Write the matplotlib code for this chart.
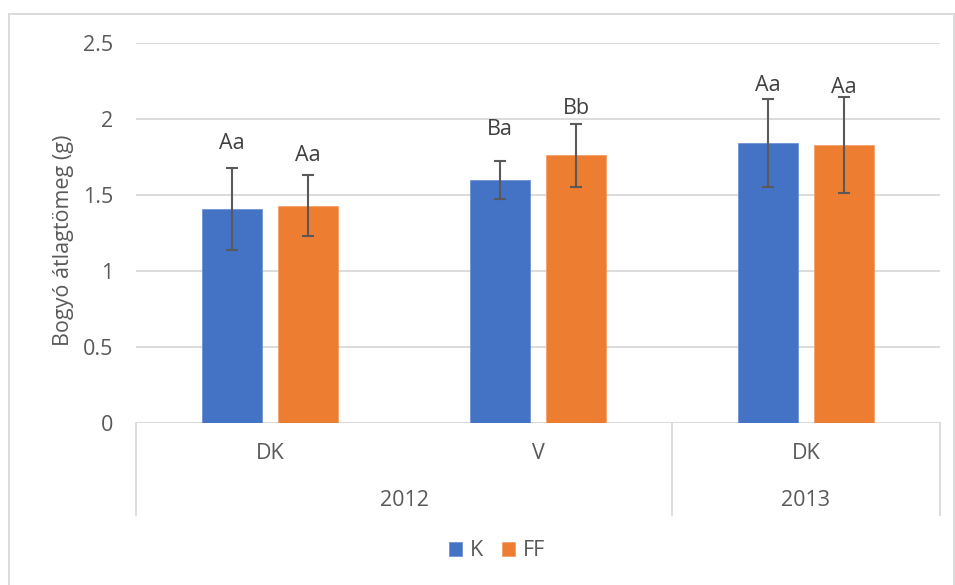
import matplotlib
matplotlib.use("Agg")
import matplotlib.pyplot as plt
from matplotlib.lines import Line2D
import numpy as np

plt.rcParams["font.family"] = ["Open Sans", "DejaVu Sans"]

# berry mean mass per site/year, control (K) vs treated (FF)
sites = ["DK", "V", "DK"]
years = ["2012", "2013"]
year_span = [(0, 1), (2, 2)]          # first/last site index of each year
k_mean = [1.41, 1.60, 1.84]
k_err = [0.27, 0.125, 0.29]
ff_mean = [1.43, 1.76, 1.83]
ff_err = [0.20, 0.21, 0.315]
k_letters = ["Aa", "Ba", "Aa"]
ff_letters = ["Aa", "Bb", "Aa"]
k_letter_y = [1.84, 1.93, 2.22]
ff_letter_y = [1.76, 2.07, 2.21]

BLUE = "#4472c4"
ORANGE = "#ed7d31"
GRID = "#d9d9d9"
TXT = "#595959"
FS = 15.5

W, H = 955, 585
fig = plt.figure(figsize=(W / 100, H / 100), dpi=100)
ax = fig.add_axes([136 / W, (H - 423) / H, 804 / W, 380 / H])

x = np.arange(len(sites))
bw = 0.224
off = 0.142
ax.bar(x - off, k_mean, bw, color=BLUE, edgecolor="#6f93d4", linewidth=0.6, zorder=2, label="K")
ax.bar(x + off, ff_mean, bw, color=ORANGE, edgecolor="#f4a06a", linewidth=0.6, zorder=2, label="FF")
ekw = dict(fmt="none", ecolor="#595959", elinewidth=1.5, capsize=4.3, capthick=1.5, zorder=3)
ax.errorbar(x - off, k_mean, yerr=k_err, **ekw)
ax.errorbar(x + off, ff_mean, yerr=ff_err, **ekw)

for i in range(len(sites)):
    ax.text(x[i] - off, k_letter_y[i], k_letters[i], ha="center", va="center", fontsize=FS, color="#404040")
    ax.text(x[i] + off, ff_letter_y[i], ff_letters[i], ha="center", va="center", fontsize=FS, color="#404040")

ax.set_xlim(-0.5, len(sites) - 0.5)
ax.set_ylim(0, 2.5)
ax.set_yticks([0, 0.5, 1, 1.5, 2, 2.5])
ax.set_yticklabels(["0", "0.5", "1", "1.5", "2", "2.5"])
ax.tick_params(axis="y", length=0, pad=16.5, labelsize=FS, labelcolor=TXT)
ax.set_xticks([])
ax.grid(axis="y", color=GRID, linewidth=1.3, zorder=0)
for s in ax.spines.values():
    s.set_visible(False)
ax.axhline(0, color=GRID, linewidth=1.3, zorder=1)
ax.set_ylabel("Bogyó átlagtömeg (g)", fontsize=FS, color=TXT, va="center")
ax.yaxis.set_label_coords(-73 / 804, (423 - 240) / 380)

# two-level category axis below the plot
tr = ax.get_xaxis_transform()
for xb in [-0.5, 1.5, 2.5]:
    ax.add_line(Line2D([xb, xb], [0, -0.242], transform=tr, color=GRID, lw=1.3, clip_on=False))
for i, s in enumerate(sites):
    ax.text(x[i], -0.079, s, transform=tr, ha="center", va="center", fontsize=FS, color=TXT)
for yr, (a, b) in zip(years, year_span):
    ax.text((a + b) / 2, -0.203, yr, transform=tr, ha="center", va="center", fontsize=FS, color=TXT)

leg = fig.legend(loc="center", bbox_to_anchor=(497 / W, (H - 551) / H), ncol=2, frameon=False,
                 fontsize=FS, handlelength=0.6, handleheight=0.6, handletextpad=0.35, columnspacing=0.9)
for t in leg.get_texts():
    t.set_color(TXT)

# chart area border
fig.add_artist(Line2D([9 / W, 9 / W], [0, (H - 14) / H], color=GRID, lw=1.3))
fig.add_artist(Line2D([9 / W, 954 / W], [(H - 14) / H, (H - 14) / H], color=GRID, lw=1.3))
fig.add_artist(Line2D([954 / W, 954 / W], [0, (H - 14) / H], color=GRID, lw=1.3))

fig.savefig("out.png", dpi=100)
